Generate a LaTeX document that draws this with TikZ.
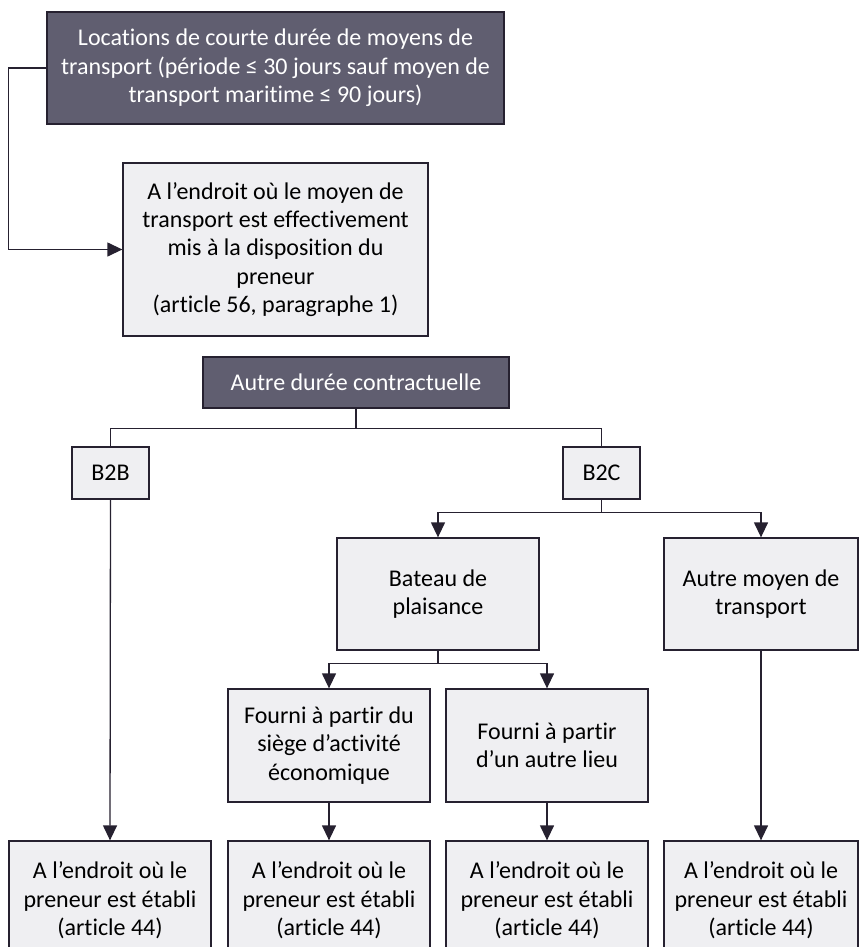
\documentclass[tikz,border=0pt]{standalone}
\usepackage{fontspec}
\setmainfont[Ligatures=NoCommon]{Carlito}
\usetikzlibrary{arrows.meta}
\definecolor{fonce}{RGB}{96,94,112}
\definecolor{clair}{RGB}{239,239,242}
\definecolor{trait}{RGB}{38,33,48}
\begin{document}
\begin{tikzpicture}[x=0.5pt, y=-0.5pt, line width=0.65pt,
  boite/.style={draw=trait, fill=clair, align=center, inner sep=2pt,
    font=\fontsize{12}{14.2}\selectfont},
  titre/.style={boite, fill=fonce, text=white},
  fleche/.style={draw=trait, -{Triangle[length=7.5pt, width=7pt]}}]
  \useasboundingbox (0,0) rectangle (860,947);

% les deux cadres du haut
  \node[titre, minimum width=228.5pt, minimum height=56pt] (loc) at (275.5,68)
    {Locations de courte durée de moyens de\\transport (période ≤ 30 jours sauf moyen de\\transport maritime ≤ 90 jours)};
  \node[boite, minimum width=152.5pt, minimum height=86.5pt] (art56) at (275.5,249.5)
    {A l’endroit où le moyen de\\transport est effectivement\\mis à la disposition du\\preneur\\(article 56, paragraphe 1)};
  \draw[fleche] (loc.west) -- ++(-38,0) |- (art56.west);

% autre durée
  \node[titre, minimum width=153pt, minimum height=25.5pt] (autre) at (356,382.5) {Autre durée contractuelle};
  \node[boite, minimum width=38.5pt, minimum height=26pt] (btob) at (110.5,473) {B2B};
  \node[boite, minimum width=38.5pt, minimum height=26pt] (btoc) at (601.5,473) {B2C};
  \draw[trait] (autre.south) -- ++(0,20) -| (btob.north);
  \draw[trait] (autre.south) -- ++(0,20) -| (btoc.north);

% B2C : bateau ou autre
  \node[boite, minimum width=101pt, minimum height=56pt] (bateau) at (438,594) {Bateau de\\plaisance};
  \node[boite, minimum width=97pt, minimum height=56pt] (autremoyen) at (761,594) {Autre moyen de\\transport};
  \draw[fleche] (btoc.south) -- ++(0,13) -| (bateau.north);
  \draw[fleche] (btoc.south) -- ++(0,13) -| (autremoyen.north);

  \node[boite, minimum width=101pt, minimum height=56.5pt] (siege) at (329,745.5) {Fourni à partir du\\siège d’activité\\économique};
  \node[boite, minimum width=101pt, minimum height=56.5pt] (ailleurs) at (547,745.5) {Fourni à partir\\d’un autre lieu};
  \draw[fleche] (bateau.south) -- ++(0,13) -| (siege.north);
  \draw[fleche] (bateau.south) -- ++(0,13) -| (ailleurs.north);

% les quatre cadres du bas (article 44)
  \foreach \n/\x/\w in {1/110/101, 2/329/101, 3/547/101, 4/761/97}
    \node[boite, minimum width=\w pt, minimum height=59.5pt] (bas\n) at (\x,900.5)
      {A l’endroit où le\\preneur est établi\\(article 44)};
  \draw[fleche] (btob.south) -- (bas1.north);
  \draw[fleche] (siege.south) -- (bas2.north);
  \draw[fleche] (ailleurs.south) -- (bas3.north);
  \draw[fleche] (autremoyen.south) -- (bas4.north);
\end{tikzpicture}
\end{document}
